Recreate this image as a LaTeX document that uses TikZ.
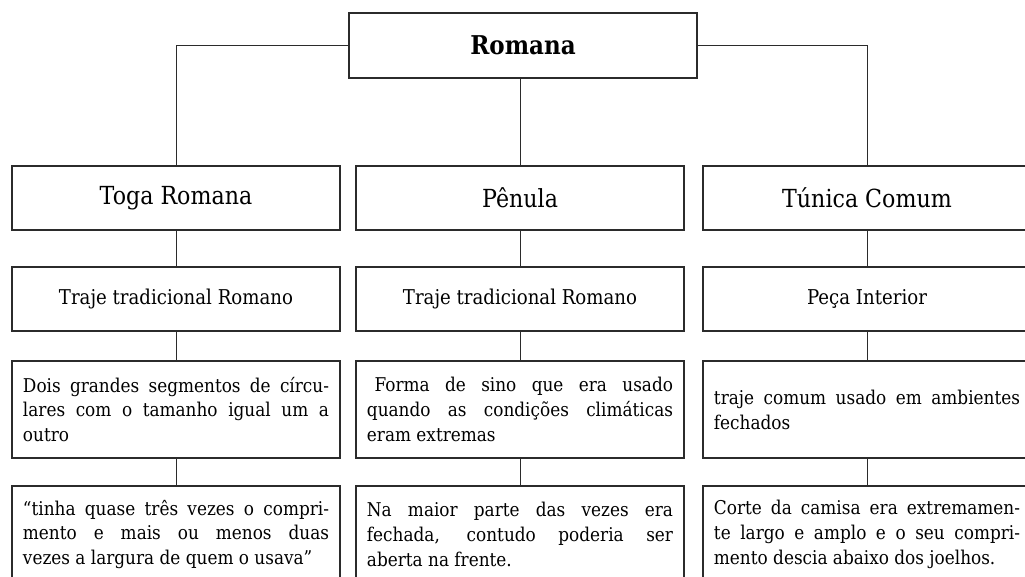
\documentclass[tikz,border=0pt]{standalone}
\usepackage{fontspec}
\setmainfont{DejaVu Serif}[FakeStretch=0.89]
\usepackage{tikz}
\usetikzlibrary{positioning}
\definecolor{ink}{HTML}{2B2B2B}
\tikzset{
  root/.style ={draw=ink, line width=0.8pt, minimum width=8.7cm, minimum height=1.625cm, inner sep=0pt, font=\fontsize{18.4}{20}\selectfont\bfseries},
  head/.style ={draw=ink, line width=0.8pt, minimum width=8.2cm, minimum height=1.6cm, inner sep=0pt, font=\fontsize{17.7}{20}\selectfont},
  sub/.style  ={draw=ink, line width=0.8pt, minimum width=8.2cm, minimum height=1.6cm, inner sep=0pt, font=\fontsize{14.5}{17.7}\selectfont},
  txt/.style  ={draw=ink, line width=0.8pt, text width=7.65cm, minimum height=2.425cm, inner xsep=0.275cm, inner ysep=0pt, align=justify, font=\fontsize{13.5}{17.7}\selectfont},
  link/.style ={draw=ink, line width=0.5pt},
}
\begin{document}
\begin{tikzpicture}[x=0.025cm, y=-0.025cm]
        \useasboundingbox[fill=white] (0,0) rectangle (1025,577);
        \clip (0,0) rectangle (1025,577);
        \node[root] (R)  at (523,45.5) {Romana};
        \node[head] (T1) at (176,198)  {Toga Romana};
        \node[head] (P1) at (520,198)  {Pênula};
        \node[head] (U1) at (867,198)  {Túnica Comum};
        \node[sub]  (T2) at (176,299)  {Traje tradicional Romano};
        \node[sub]  (P2) at (520,299)  {Traje tradicional Romano};
        \node[sub]  (U2) at (867,299)  {Peça Interior};
        \node[txt]  (T3) at (176,409.5) {Dois grandes segmentos de círcu-\linebreak lares com o tamanho igual um a\linebreak outro};
        \node[txt]  (P3) at (520,409.5) {\hspace*{0.4em}Forma de sino que era usado\linebreak quando as condições climáticas\linebreak eram extremas};
        \node[txt]  (U3) at (867,409.5) {traje comum usado em ambientes\linebreak fechados};
        \node[txt]  (T4) at (176,534.5) {“tinha quase três vezes o compri-\linebreak mento e mais ou menos duas\linebreak vezes a largura de quem o usava”};
        \node[txt]  (P4) at (520,534.5) {Na maior parte das vezes era\linebreak fechada, contudo poderia ser\linebreak aberta na frente.};
        \node[txt]  (U4) at (867,534.5) {Corte da camisa era extremamen-\linebreak te largo e amplo e o seu compri-\linebreak mento descia abaixo dos joelhos.};
        \draw[link] (R.west) -| (T1.north);
        \draw[link] (R.east) -| (U1.north);
        \draw[link] (R.south -| P1.north) -- (P1.north);
        \draw[link] (T1) -- (T2);
        \draw[link] (P1) -- (P2);
        \draw[link] (U1) -- (U2);
        \draw[link] (T2) -- (T3);
        \draw[link] (P2) -- (P3);
        \draw[link] (U2) -- (U3);
        \draw[link] (T3) -- (T4);
        \draw[link] (P3) -- (P4);
        \draw[link] (U3) -- (U4);
      \end{tikzpicture}
\end{document}
